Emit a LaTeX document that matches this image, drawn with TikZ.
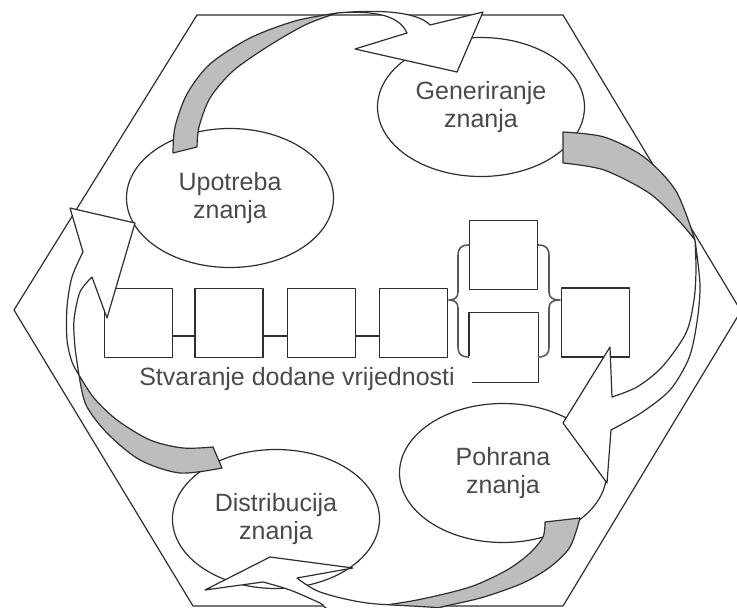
\documentclass[tikz,border=0pt]{standalone}
\usepackage{fontspec}
\setmainfont{Liberation Sans}
\usetikzlibrary{shapes.geometric}
\definecolor{ln}{HTML}{2E2E2E}
\definecolor{txt}{HTML}{4A4A4A}
\definecolor{shade}{HTML}{BDBDBD}
\begin{document}
\begin{tikzpicture}[x=1pt,y=-1pt,line width=1.2pt,line join=round,
  bub/.style={ellipse,draw=ln,fill=white,minimum width=207pt,minimum height=139pt,inner sep=0pt,
    align=center,text=txt,font=\fontsize{25}{28}\selectfont},
  boxst/.style={rectangle,draw=ln,fill=white,minimum width=68pt,minimum height=69pt,inner sep=0pt},
  lbl/.style={text=txt,font=\fontsize{25}{28}\selectfont,inner sep=0pt},
  brc/.style={draw=ln!80,line width=1.6pt},
  grayband/.style={draw=ln,fill=shade},
  whiteband/.style={draw=ln,fill=white}]
\useasboundingbox (0,0) rectangle (737,608);
\begin{scope}
\clip (0,0) rectangle (737,608);
% hexagon frame
\draw[ln] (197,15) -- (563,15) -- (741,311) -- (563,606) -- (193,606) -- (14,310) -- cycle;

% value chain boxes
\node[boxst] (b1) at (138.5,323) {};
\node[boxst] (b2) at (229,323) {};
\node[boxst] (b3) at (321.5,323) {};
\node[boxst] (b4) at (413.5,323) {};
\node[boxst] (b5) at (503.5,255) {};
\node[boxst,draw=none] (b6) at (503.5,347.5) {};
\node[boxst] (b7) at (595.5,322.5) {};
\draw[ln] ([yshift=-44pt]b6.north west) -- (b6.north west) -- (b6.north east) -- (b6.south east) -- ([xshift=3pt]b6.south west);
\draw[ln] ([yshift=-13pt]b1.east) -- ([yshift=-13pt]b2.west);
\draw[ln] ([yshift=-13pt]b2.east) -- ([yshift=-13pt]b3.west);
\draw[ln] ([yshift=-13pt]b3.east) -- ([yshift=-13pt]b4.west);
% braces
\draw[brc] (469,245) .. controls (461,245) and (458,248) .. (458,256) -- (458,292)
  .. controls (458,298) and (454,300) .. (449,300) .. controls (454,300) and (458,302) .. (458,308)
  -- (458,347) .. controls (458,354) and (461,357) .. (469,357);
\draw[brc] (538,245) .. controls (546,245) and (549,248) .. (549,256) -- (549,292)
  .. controls (549,298) and (553,300) .. (560,300) .. controls (553,300) and (549,302) .. (549,308)
  -- (549,347) .. controls (549,354) and (546,357) .. (538,357);
\node[lbl,anchor=base] (val) at (297,385) {Stvaranje dodane vrijednosti};

% knowledge bubbles
\node[bub] (gen) at (481,107) {Generiranje\\znanja};
\node[bub] (upo) at (230,198) {Upotreba\\znanja};
\node[bub] (poh) at (503,473) {Pohrana\\znanja};
\node[bub] (dis) at (276,519) {Distribucija\\znanja};

% top arrow: Upotreba -> Generiranje
\filldraw[grayband] plot[smooth] coordinates {(173,153) (175,127) (187,94) (210,64) (250,38) (295,21) (337,13)}
  -- plot[smooth] coordinates {(337,13) (305,25) (267,47) (233,71) (210,98) (199,127) (197,147)} -- cycle;
\filldraw[whiteband] (337,13) .. controls (365,11) and (398,12) .. (407,33) -- (355,49) -- (457,72)
  -- (483,12) -- (430,25) .. controls (418,12) and (380,9) .. (337,13) -- cycle;

% right arrow: Generiranje -> Pohrana
\filldraw[grayband] plot[smooth] coordinates {(563,132) (604,137) (644,157) (676,191) (695,240)}
  -- plot[smooth] coordinates {(695,240) (679,221) (649,193) (604,170) (563,163)} -- cycle;
\filldraw[whiteband] plot[smooth] coordinates {(695,240) (700,285) (697,322) (689,358) (670,390) (641,413) (611,430)}
  -- (607,483) -- (563,423) -- (610,347) -- (612,397)
  -- plot[smooth] coordinates {(612,397) (637,387) (662,367) (686,333) (694,300) (696,270) (695,240)} -- cycle;

% bottom arrow: Pohrana -> Distribucija
\filldraw[grayband] plot[smooth] coordinates {(545,522) (543,537) (530,553) (507,570) (470,587) (417,600) (360,609) (330,616)}
  -- plot[smooth] coordinates {(330,616) (400,615) (450,605) (484,597) (523,583) (550,567) (570,547) (580,518)} -- cycle;
\filldraw[whiteband] plot[smooth] coordinates {(297,578) (320,592) (367,603) (440,608) (500,618)}
  -- plot[smooth] coordinates {(500,618) (420,622) (335,611) (320,603) (290,590) (263,582)}
  -- (205,590) -- (270,557) -- (353,568) -- cycle;

% left arrow: Distribucija -> Upotreba
\filldraw[grayband] plot[smooth] coordinates {(213,447) (183,448) (150,440) (117,420) (94,398) (79,375)}
  -- plot[smooth] coordinates {(79,375) (86,405) (107,433) (140,460) (180,473) (222,468)} -- cycle;
\filldraw[whiteband] plot[smooth] coordinates {(79,375) (75,347) (74,320) (80,292) (92,277)}
  -- (107,318) -- (135,223) -- (70,208) -- (83,252)
  -- plot[smooth] coordinates {(83,252) (72,277) (67,307) (67,340) (72,362) (79,375)} -- cycle;
\end{scope}
\end{tikzpicture}
\end{document}
